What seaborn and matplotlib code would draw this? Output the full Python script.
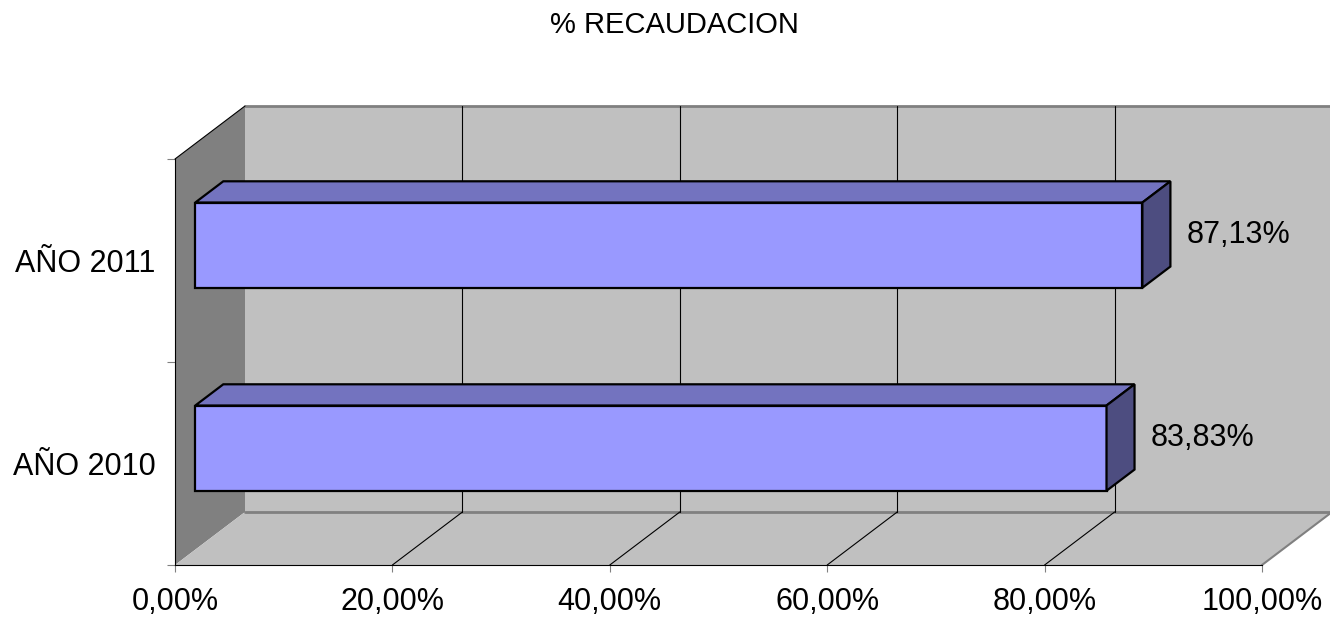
import numpy as np
import matplotlib
matplotlib.use('Agg')
import matplotlib.pyplot as plt
from matplotlib.patches import Polygon, Rectangle
import seaborn as sns
import pandas as pd

# data
years = ['AÑO 2011', 'AÑO 2010']
recaudacion = [87.13, 83.83]
x_ticks = [0, 20, 40, 60, 80, 100]
x_tick_labels = ['0,00%', '20,00%', '40,00%', '60,00%', '80,00%', '100,00%']
title = '% RECAUDACION'

sns.set_theme(style='white')
plt.rcParams['font.family'] = ['Liberation Sans', 'DejaVu Sans']
plt.rcParams['text.color'] = 'black'
plt.rcParams['xtick.labelcolor'] = 'black'
plt.rcParams['ytick.labelcolor'] = 'black'

W, H = 1330, 617
fig = plt.figure(figsize=(W / 100, H / 100), dpi=100)
# axes = front plane of the 3D box
ax = fig.add_axes([175 / W, (H - 565) / H, 1087 / W, 406 / H])
ax.set_xlim(0, 100)
ax.set_ylim(1.5, -0.5)

# depth of the 3D box in data units (70 px right, 53 px up)
dx = 70 / 10.87
dy = 53 / 203.0

# walls and floor
ax.add_patch(Rectangle((dx, -0.5 - dy), 100, 2, facecolor='#C0C0C0', edgecolor='none',
                       clip_on=False, zorder=0))
ax.add_patch(Polygon([(0, -0.5), (dx, -0.5 - dy), (dx, 1.5 - dy), (0, 1.5)],
                     facecolor='#808080', edgecolor='none', clip_on=False, zorder=0.5))
ax.add_patch(Polygon([(0, 1.5), (100, 1.5), (100 + dx, 1.5 - dy), (dx, 1.5 - dy)],
                     facecolor='#C0C0C0', edgecolor='none', clip_on=False, zorder=0.6))
ax.plot([dx, 100 + dx], [-0.5 - dy, -0.5 - dy], color='#808080', lw=2, clip_on=False, zorder=0.7)
ax.plot([dx, 100 + dx], [1.5 - dy, 1.5 - dy], color='#808080', lw=2, clip_on=False, zorder=0.7)
ax.plot([0, dx], [-0.5, -0.5 - dy], color='black', lw=0.8, clip_on=False, zorder=0.7)
ax.plot([100, 100 + dx], [1.5, 1.5 - dy], color='#808080', lw=1.5, clip_on=False, zorder=0.7)

# gridlines on back wall and floor
for t in x_ticks[1:-1]:
    ax.plot([t + dx, t + dx], [-0.5 - dy, 1.5 - dy], color='black', lw=0.8, clip_on=False, zorder=0.8)
    ax.plot([t, t + dx], [1.5, 1.5 - dy], color='black', lw=0.8, clip_on=False, zorder=0.8)

df = pd.DataFrame({'anio': years, 'valor': recaudacion})
sns.barplot(data=df, x='valor', y='anio', orient='h', width=0.42, color='#9999FF',
            edgecolor='black', linewidth=1.6, saturation=1, ax=ax, zorder=2)

f1, f2 = 0.29, 0.69
for bar, v in zip(ax.containers[0], recaudacion):
    bar.set_x(bar.get_x() + dx * f1)
    bar.set_y(bar.get_y() - dy * f1)
    bar.set_clip_on(False)
    xl = bar.get_x()
    xr = xl + bar.get_width()
    yt = bar.get_y()
    yb = yt + bar.get_height()
    ddx = dx * (f2 - f1)
    ddy = dy * (f2 - f1)
    ax.add_patch(Polygon([(xl, yt), (xr, yt), (xr + ddx, yt - ddy), (xl + ddx, yt - ddy)],
                         facecolor='#7373BF', edgecolor='black', lw=1.6, joinstyle='miter',
                         clip_on=False, zorder=2))
    ax.add_patch(Polygon([(xr, yt), (xr, yb), (xr + ddx, yb - ddy), (xr + ddx, yt - ddy)],
                         facecolor='#4D4D80', edgecolor='black', lw=1.6, joinstyle='miter',
                         clip_on=False, zorder=2))
    ax.text(v + 5.9, (yt + yb) / 2 - dy * 0.2, f'{v:.2f}%'.replace('.', ','),
            fontsize=22, ha='left', va='center', color='black', zorder=3)

ax.set_facecolor('none')
for s in ['top', 'right']:
    ax.spines[s].set_visible(False)
ax.spines['left'].set_color('black')
ax.spines['bottom'].set_color('black')
ax.spines['left'].set_linewidth(0.8)
ax.spines['bottom'].set_linewidth(0.8)
ax.spines['left'].set_zorder(1)
ax.spines['bottom'].set_zorder(1)

ax.set_xticks(x_ticks)
ax.set_xticklabels(x_tick_labels, fontsize=22)
ax.set_yticks([0, 1])
ax.set_yticklabels(years, fontsize=22)
ax.set_yticks([-0.5, 0.5, 1.5], minor=True)
ax.tick_params(axis='x', which='major', direction='out', length=5, width=0.8, color='#808080',
               pad=11, bottom=True)
ax.tick_params(axis='y', which='major', length=0, pad=14)
ax.tick_params(axis='y', which='minor', direction='out', length=6, width=0.8, color='#808080', left=True)
ax.set_xlabel('')
ax.set_ylabel('')

fig.text(674 / W, 1 - 25 / H, title, fontsize=21, ha='center', va='center', color='black')

fig.savefig('out.png', dpi=100, facecolor='white')
